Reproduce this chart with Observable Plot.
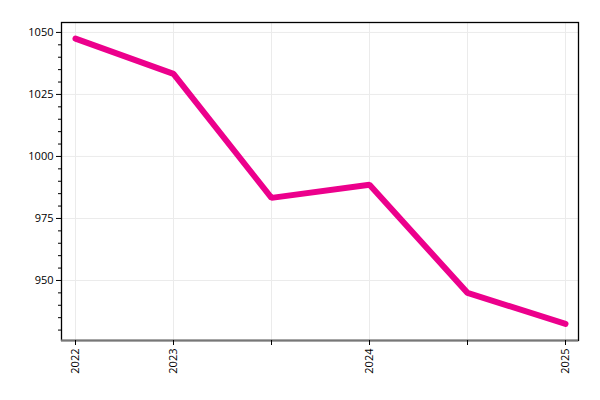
<!DOCTYPE html>
<html><head><meta charset="utf-8">
<script src="https://cdn.jsdelivr.net/npm/d3@7"></script>
<script src="https://cdn.jsdelivr.net/npm/@observablehq/plot@0.6"></script>
<style>body{margin:0;background:#fff}</style>
</head><body><div id="chart"></div>
<script>
const periods = ["2022", "2023", "2023-H2", "2024", "2024-H2", "2025"];
const tickLabels = ["2022", "2023", "", "2024", "", "2025"];
const values = [1047.5, 1033.3, 983.3, 988.6, 945.0, 932.5];
const yMajorTicks = [950, 975, 1000, 1025, 1050];
const yMinorTicks = [930, 935, 940, 945, 955, 960, 965, 970, 980, 985, 990, 995, 1005, 1010, 1015, 1020, 1030, 1035, 1040, 1045];
const yDomain = [925.8, 1054];

const data = periods.map((p, i) => ({period: p, value: values[i]}));
const labelOf = d => tickLabels[periods.indexOf(d)];

const chart = Plot.plot({
  width: 600, height: 400,
  marginLeft: 61, marginTop: 22, marginRight: 22, marginBottom: 60,
  style: {fontFamily: "'Open Sans', sans-serif", fontSize: "11px", color: "#000", background: "#fff"},
  x: {type: "point", domain: periods, inset: 12, padding: 0, label: null},
  y: {domain: yDomain, label: null},
  marks: [
    Plot.gridX(periods, {stroke: "#ebebeb", strokeOpacity: 1}),
    Plot.gridY(yMajorTicks, {stroke: "#ebebeb", strokeOpacity: 1}),
    Plot.line(data, {x: "period", y: "value", stroke: "#ec008c", strokeWidth: 6, strokeLinecap: "round", strokeLinejoin: "miter"}),
    Plot.frame({stroke: "#000", strokeWidth: 1.3}),
    Plot.ruleY([yDomain[0]], {stroke: "#777", strokeWidth: 2}),
    Plot.axisY(yMajorTicks, {tickSize: 5, tickPadding: 3, tickFormat: d => String(d), stroke: "#000", strokeOpacity: 1, label: null}),
    Plot.axisY(yMinorTicks, {tickSize: 3, text: null, stroke: "#000", strokeOpacity: 1, label: null}),
    Plot.axisX(periods, {tickSize: 5, tickPadding: 3, tickRotate: -90, tickFormat: labelOf, stroke: "#000", strokeOpacity: 1, label: null})
  ]
});
document.getElementById("chart").appendChild(chart);
</script>
</body></html>
